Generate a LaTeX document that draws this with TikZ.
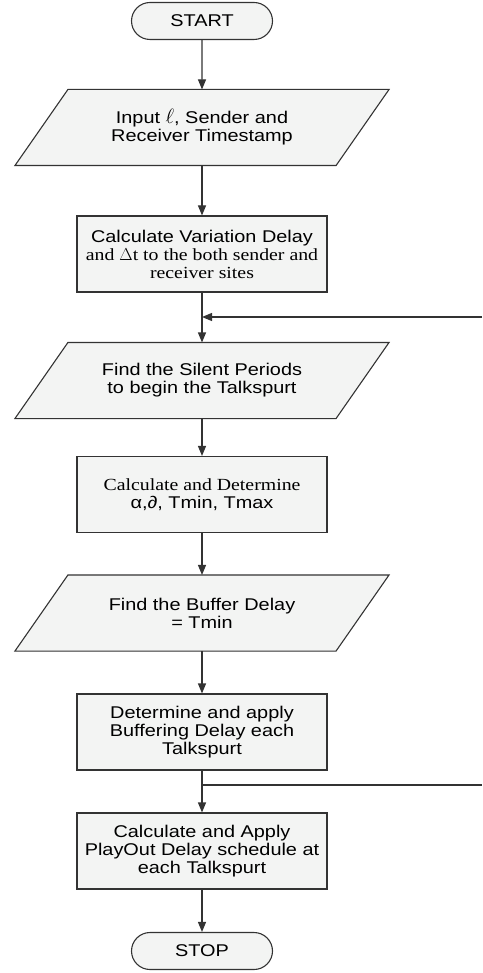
\documentclass[tikz,border=0pt]{standalone}
\usepackage{fontspec}
\setmainfont[FakeStretch=1.17]{Liberation Sans}
\newfontfamily\serifup[FakeStretch=1.165]{Liberation Serif}
\usetikzlibrary{arrows.meta,shapes.misc,backgrounds}
\definecolor{boxfill}{HTML}{F3F4F3}
\definecolor{linec}{HTML}{333333}
\tikzset{
  base/.style={draw=linec, line width=1.1pt, fill=boxfill, align=center, inner sep=1pt,
    font=\fontsize{17}{18}\selectfont},
  term/.style={base, rounded rectangle, minimum width=143pt, minimum height=37pt},
  proc/.style={base, rectangle, minimum width=250pt, minimum height=76pt},
  io/.style={base, draw=none, fill=none, rectangle, minimum width=320pt, minimum height=75pt},
  arr/.style={draw=linec, line width=1.1pt, -{Triangle[length=10pt,width=8pt]}},
  ln/.style={draw=linec, line width=1.1pt}
}
\begin{document}
\begin{tikzpicture}[x=1pt,y=-1pt]
\useasboundingbox (0,0) rectangle (482,973);
\node[term] (start) at (202,21) {START};
\node[io] (p1) at (202,127.5) {Input {\fontsize{21}{18}\selectfont$\ell$}, Sender and\\Receiver Timestamp};
\node[proc] (b1) at (202,254) {Calculate Variation Delay\\{\serifup and $\Delta$t to the both sender and}\\{\serifup receiver sites}};
\node[io] (p2) at (202,380.5) {Find the Silent Periods\\to begin the Talkspurt};
\node[proc] (b2) at (202,494.5) {{\serifup Calculate and Determine}\\α,∂, Tmin, Tmax};
\node[io] (p3) at (202,613) {Find the Buffer Delay\\= Tmin};
\node[proc] (b3) at (202,732) {Determine and apply\\Buffering Delay each\\Talkspurt};
\node[proc] (b4) at (202,851) {Calculate and Apply\\PlayOut Delay schedule at\\each Talkspurt};
\node[term] (stop) at (202,951) {STOP};
\begin{scope}[on background layer]
\foreach \n in {p1,p2,p3}
  \draw[draw=linec, line width=1.1pt, fill=boxfill]
    ([xshift=26.5pt]\n.north west) -- ([xshift=26.5pt]\n.north east)
    -- ([xshift=-26.5pt]\n.south east) -- ([xshift=-26.5pt]\n.south west) -- cycle;
\end{scope}
\coordinate (j1) at (202,317);
\coordinate (r1) at (482,317);
\coordinate (j2) at (202,785);
\coordinate (r2) at (482,785);
\draw[arr] (start) -- (p1);
\draw[arr] (p1) -- (b1);
\draw[arr] (b1) -- (p2);
\draw[arr] (r1) -- (j1);
\draw[arr] (p2) -- (b2);
\draw[arr] (b2) -- (p3);
\draw[arr] (p3) -- (b3);
\draw[arr] (b3) -- (b4);
\draw[ln] (j2) -- (r2);
\draw[arr] (b4) -- (stop);
\end{tikzpicture}
\end{document}
